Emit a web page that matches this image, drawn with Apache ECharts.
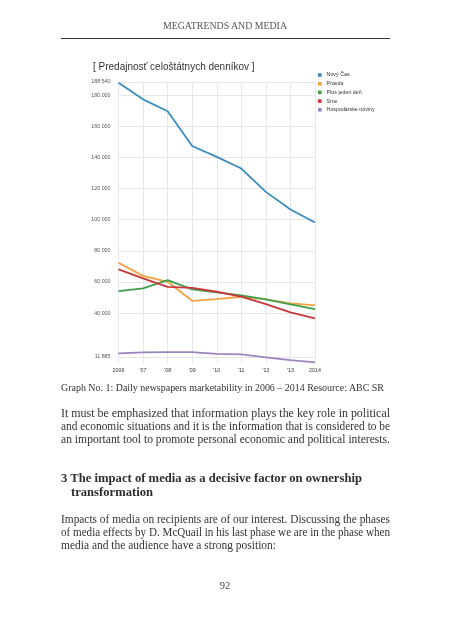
<!DOCTYPE html>
<html>
<head>
<meta charset="utf-8">
<script src="https://cdn.jsdelivr.net/npm/echarts@6/dist/echarts.min.js"></script>
<style>
  html, body { margin: 0; padding: 0; background: #fff; }
  #page { position: relative; width: 451px; height: 640px; overflow: hidden; }
  #chart { position: absolute; left: 0; top: 0; width: 451px; height: 640px; }
  .t { position: absolute; white-space: nowrap; font-family: "Liberation Serif", "DejaVu Serif", serif; color: #333; line-height: 1; display: inline-block; transform-origin: 0 50%; }
  .b { font-weight: bold; color: #2e2e2e; }
  #rule { position: absolute; left: 61px; top: 37.5px; width: 329px; height: 1.3px; background: #333; }
</style>
</head>
<body>
<div id="page">
  <div id="chart"></div>
  <div class="t" id="hdr" style="font-size:10.5px;color:#555;top:21px;" data-w="124" data-cx="225">MEGATRENDS AND MEDIA</div>
  <div id="rule"></div>
  <div class="t" style="font-size:11px;left:61px;top:381.5px;" data-w="323">Graph No. 1: Daily newspapers marketability in 2006 – 2014 Resource: ABC SR</div>
  <div class="t" style="font-size:12.5px;left:61px;top:406.5px;" data-w="329">It must be emphasized that information plays the key role in political</div>
  <div class="t" style="font-size:12.5px;left:61px;top:419.5px;" data-w="329">and economic situations and it is the information that is considered to be</div>
  <div class="t" style="font-size:12.5px;left:61px;top:432.5px;" data-w="329">an important tool to promote personal economic and political interests.</div>
  <div class="t b" style="font-size:13.5px;left:61px;top:471px;" data-w="301">3 The impact of media as a decisive factor on ownership</div>
  <div class="t b" style="font-size:13.5px;left:70.5px;top:485px;" data-w="82">transformation</div>
  <div class="t" style="font-size:12.5px;left:61px;top:512.5px;" data-w="329">Impacts of media on recipients are of our interest. Discussing the phases</div>
  <div class="t" style="font-size:12.5px;left:61px;top:525.5px;" data-w="329">of media effects by D. McQuail in his last phase we are in the phase when</div>
  <div class="t" style="font-size:12.5px;left:61px;top:538.5px;" data-w="215">media and the audience have a strong position:</div>
  <div class="t" style="font-size:10.5px;color:#444;top:581px;" data-cx="225">92</div>
</div>
<script>
// ---- data ----
const years = ['2006', "'07", "'08", "'09", "'10", "'11", "'12", "'13", '2014'];
const seriesNames = ['Nový Čas', 'Pravda', 'Plus jeden deň', 'Sme', 'Hospodárske noviny'];
const novyCas = [188000, 177400, 169700, 147400, 140400, 132900, 117900, 106600, 98200];
const pravda = [72300, 63900, 60100, 47900, 49000, 50500, 48800, 46200, 44900];
const plusJedenDen = [54100, 55900, 61200, 55200, 53300, 51400, 48800, 45600, 42600];
const sme = [68100, 62300, 56900, 56200, 53700, 50500, 45800, 40400, 36600];
const hospodarske = [14100, 14700, 14900, 14900, 13800, 13500, 11500, 9800, 8300];
const yTicks = [11885, 40000, 60000, 80000, 100000, 120000, 140000, 160000, 180000, 188540];
const colors = ['#3b8bbd', '#f2a23e', '#3e9f4a', '#c8383b', '#9c84c0'];

// ---- fit document text lines ----
document.querySelectorAll('.t').forEach(el => {
  const w = el.getBoundingClientRect().width;
  const tw = el.dataset.w ? parseFloat(el.dataset.w) : w;
  const s = tw / w;
  el.style.transform = 'scaleX(' + s + ')';
  if (el.dataset.cx) {
    el.style.left = (parseFloat(el.dataset.cx) - tw / 2) + 'px';
  }
});

// ---- chart ----
const fmt = v => String(Math.round(v)).replace(/\B(?=(\d{3})+(?!\d))/g, ' ');
const allData = [novyCas, pravda, plusJedenDen, sme, hospodarske];
const chart = echarts.init(document.getElementById('chart'), null, { renderer: 'canvas' });
chart.setOption({
  animation: false,
  backgroundColor: 'transparent',
  color: colors,
  title: {
    text: '[ Predajnosť celoštátnych denníkov ]',
    left: 93, top: 62, padding: 0,
    textStyle: { fontFamily: 'Liberation Sans, Arial, sans-serif', fontSize: 10, fontWeight: 'normal', color: '#333' }
  },
  legend: {
    orient: 'vertical', left: 318, top: 72, padding: 0,
    icon: 'rect', itemWidth: 3.6, itemHeight: 3.6, itemGap: 2.7,
    textStyle: { fontFamily: 'Liberation Sans, Arial, sans-serif', fontSize: 5.3, color: '#333', lineHeight: 6 },
    data: seriesNames
  },
  grid: { left: 118.5, top: 82, width: 196.5, height: 281, containLabel: false },
  xAxis: {
    type: 'category', data: years, boundaryGap: false,
    axisLine: { show: false }, axisTick: { show: false },
    axisLabel: { fontFamily: 'Liberation Sans, Arial, sans-serif', fontSize: 5.3, color: '#333', margin: 5, interval: 0 },
    splitLine: { show: true, interval: 0, lineStyle: { color: '#e6e6ec', width: 1 } }
  },
  yAxis: {
    type: 'value', min: 7900, max: 188540,
    axisLine: { show: false },
    axisTick: { show: false, customValues: yTicks },
    axisLabel: { customValues: yTicks, formatter: fmt, fontFamily: 'Liberation Sans, Arial, sans-serif', fontSize: 5.3, color: '#555', margin: 8, showMinLabel: true, showMaxLabel: true },
    splitLine: { show: true, lineStyle: { color: '#e6e6e6', width: 1 } }
  },
  series: seriesNames.map((n, i) => ({
    name: n, type: 'line', data: allData[i], symbol: 'none', smooth: false,
    lineStyle: { width: 1.8, color: colors[i] }, itemStyle: { color: colors[i] }
  }))
});
</script>
</body>
</html>
